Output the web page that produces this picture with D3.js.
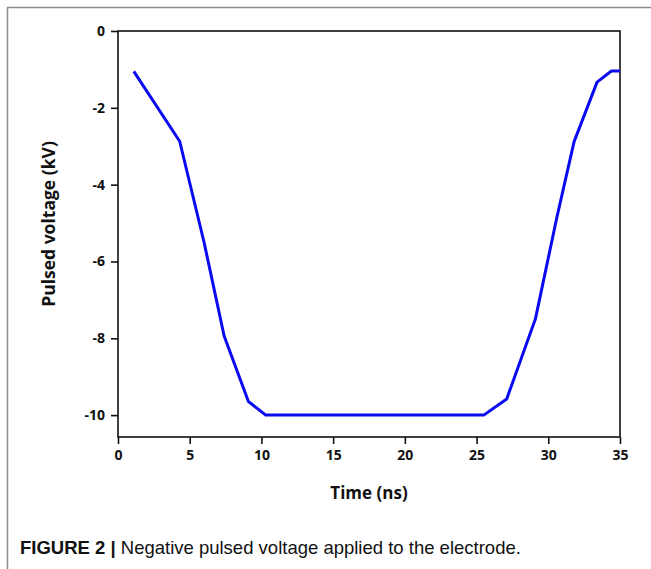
<!DOCTYPE html>
<html>
<head>
<meta charset="utf-8">
<script src="https://cdn.jsdelivr.net/npm/d3@7"></script>
<style>
  html, body { margin: 0; padding: 0; background: #fff; }
  svg { display: block; }
</style>
</head>
<body>
<svg id="chart" width="651" height="569"></svg>
<script>
// Pulse waveform: time in ns, voltage in kV
const timeNs = [1.1, 4.3, 6.0, 7.4, 9.1, 10.3, 25.5, 27.1, 29.1, 30.6, 31.8, 33.4, 34.4, 35];
const voltageKV = [-1.05, -2.87, -5.5, -7.94, -9.65, -10, -10, -9.58, -7.5, -4.85, -2.88, -1.33, -1.04, -1.04];
const xTicks = [0, 5, 10, 15, 20, 25, 30, 35];
const yTicks = [0, -2, -4, -6, -8, -10];

const svg = d3.select("#chart");
const W = 651, H = 569;
const plot = { left: 118, right: 620, top: 31, bottom: 437 };

// Outer frame (top and left edges)
svg.append("path")
  .attr("d", `M7.5,${H} L7.5,7.5 L${W},7.5`)
  .attr("fill", "none")
  .attr("stroke", "#8c8c8c")
  .attr("stroke-width", 1.5);

const x = d3.scaleLinear().domain([0, 35]).range([plot.left, plot.right]);
const y = d3.scaleLinear().domain([0, -10.57]).range([plot.top, plot.bottom]);

const tickFont = "'Open Sans', 'DejaVu Sans', sans-serif";

// Plot box
svg.append("rect")
  .attr("x", plot.left).attr("y", plot.top)
  .attr("width", plot.right - plot.left)
  .attr("height", plot.bottom - plot.top)
  .attr("fill", "none")
  .attr("stroke", "#111")
  .attr("stroke-width", 1.6);

// Bottom axis
const xAxis = svg.append("g")
  .attr("transform", `translate(0,${plot.bottom})`)
  .call(d3.axisBottom(x).tickValues(xTicks).tickSize(7).tickSizeOuter(0).tickFormat(d3.format("d")));
xAxis.select(".domain").remove();
xAxis.selectAll("line").attr("stroke", "#111").attr("stroke-width", 1.6);
xAxis.selectAll("text")
  .attr("font-family", tickFont).attr("font-weight", "bold")
  .attr("font-size", 14).attr("fill", "#111").attr("y", 13).attr("dy", "0.71em");

// Left axis
const yAxis = svg.append("g")
  .attr("transform", `translate(${plot.left},0)`)
  .call(d3.axisLeft(y).tickValues(yTicks).tickSize(7).tickSizeOuter(0).tickFormat(d => d3.format("d")(d).replace("−", "-")));
yAxis.select(".domain").remove();
yAxis.selectAll("line").attr("stroke", "#111").attr("stroke-width", 1.6);
yAxis.selectAll("text")
  .attr("font-family", tickFont).attr("font-weight", "bold")
  .attr("font-size", 14).attr("fill", "#111").attr("x", -13);

// Axis titles
svg.append("text")
  .attr("x", (plot.left + plot.right) / 2).attr("y", 499)
  .attr("text-anchor", "middle")
  .attr("font-family", tickFont).attr("font-weight", "bold")
  .attr("font-size", 17).attr("fill", "#111")
  .text("Time (ns)");

svg.append("text")
  .attr("transform", `translate(55,224) rotate(-90)`)
  .attr("text-anchor", "middle")
  .attr("font-family", tickFont).attr("font-weight", "bold")
  .attr("font-size", 17.5).attr("fill", "#111")
  .text("Pulsed voltage (kV)");

// Voltage curve
const line = d3.line().x((d, i) => x(timeNs[i])).y(d => y(d));
svg.append("path")
  .datum(voltageKV)
  .attr("d", line)
  .attr("fill", "none")
  .attr("stroke", "#0a0af0")
  .attr("stroke-width", 3)
  .attr("stroke-linejoin", "round");

// Caption
const cap = svg.append("text")
  .attr("x", 20).attr("y", 554)
  .attr("font-family", "'Liberation Sans', Arial, sans-serif")
  .attr("font-size", 18.5).attr("fill", "#111");
cap.append("tspan").attr("font-weight", "bold").text("FIGURE 2 | ");
cap.append("tspan").text("Negative pulsed voltage applied to the electrode.");
</script>
</body>
</html>
